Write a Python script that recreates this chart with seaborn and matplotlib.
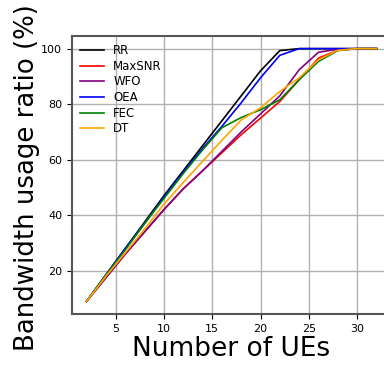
import matplotlib
matplotlib.use("Agg")
import matplotlib.pyplot as plt
import seaborn as sns
import pandas as pd

ues = [2, 4, 6, 8, 10, 12, 14, 16, 18, 20, 22, 24, 26, 28, 30, 32]
rr     = [9, 18.5, 28, 37.5, 47, 56, 65, 74, 83, 92, 99.3, 100, 100, 100, 100, 100]
maxsnr = [9, 17.5, 26, 34, 42, 49.5, 56, 62.5, 69, 75, 81, 88.8, 96.6, 99.4, 100, 100]
wfo    = [9, 17.5, 26, 34, 42, 49.5, 56, 63, 70, 76.5, 83, 92.4, 98.7, 99.8, 100, 100]
oea    = [9, 18.5, 28, 37, 46.5, 55.5, 64, 72, 80.5, 89.5, 97.6, 100, 100, 100, 100, 100]
fec    = [9, 18.5, 27.5, 37, 46, 55, 63.5, 71.5, 75.2, 78, 81.6, 88.8, 95.4, 99.3, 100, 100]
dt     = [9, 18, 26.5, 35, 44, 51.8, 59.4, 67, 74.3, 78.7, 84.6, 89.5, 96, 99.4, 100, 100]

names = ["RR", "MaxSNR", "WFO", "OEA", "FEC", "DT"]
series = [rr, maxsnr, wfo, oea, fec, dt]
colors = ["black", "red", "purple", "blue", "green", "orange"]

rows = []
for n, s in zip(names, series):
    for x, y in zip(ues, s):
        rows.append({"UEs": x, "ratio": y, "method": n})
df = pd.DataFrame(rows)

fig = plt.figure(figsize=(3.84, 3.65), dpi=100)
ax = fig.add_axes([72/384, 1-314/365, (391-72)/384, (314-36)/365])
sns.lineplot(data=df, x="UEs", y="ratio", hue="method", hue_order=names,
             palette=colors, linewidth=1.2, ax=ax)
ax.set_xlim(0.5, 33.5)
ax.set_ylim(4.45, 104.55)
ax.set_xticks([5, 10, 15, 20, 25, 30])
ax.set_yticks([20, 40, 60, 80, 100])
ax.grid(True, color="#b0b0b0", linewidth=1.0)
ax.set_axisbelow(True)
for sp in ax.spines.values():
    sp.set_color("#555555")
    sp.set_linewidth(1.5)
ax.tick_params(labelsize=8, length=3.5, width=0.8)
ax.set_xlabel("Number of UEs", fontsize=19, labelpad=2)
ax.set_ylabel("Bandwidth usage ratio (%)", fontsize=18.7)
ax.yaxis.set_label_coords(-0.10, 0.49)
leg = ax.legend(loc="upper left", frameon=False, fontsize=8.5, handlelength=2,
                borderaxespad=0.3, labelspacing=0.22)
leg.set_title(None)
fig.savefig("out.png", dpi=100)
